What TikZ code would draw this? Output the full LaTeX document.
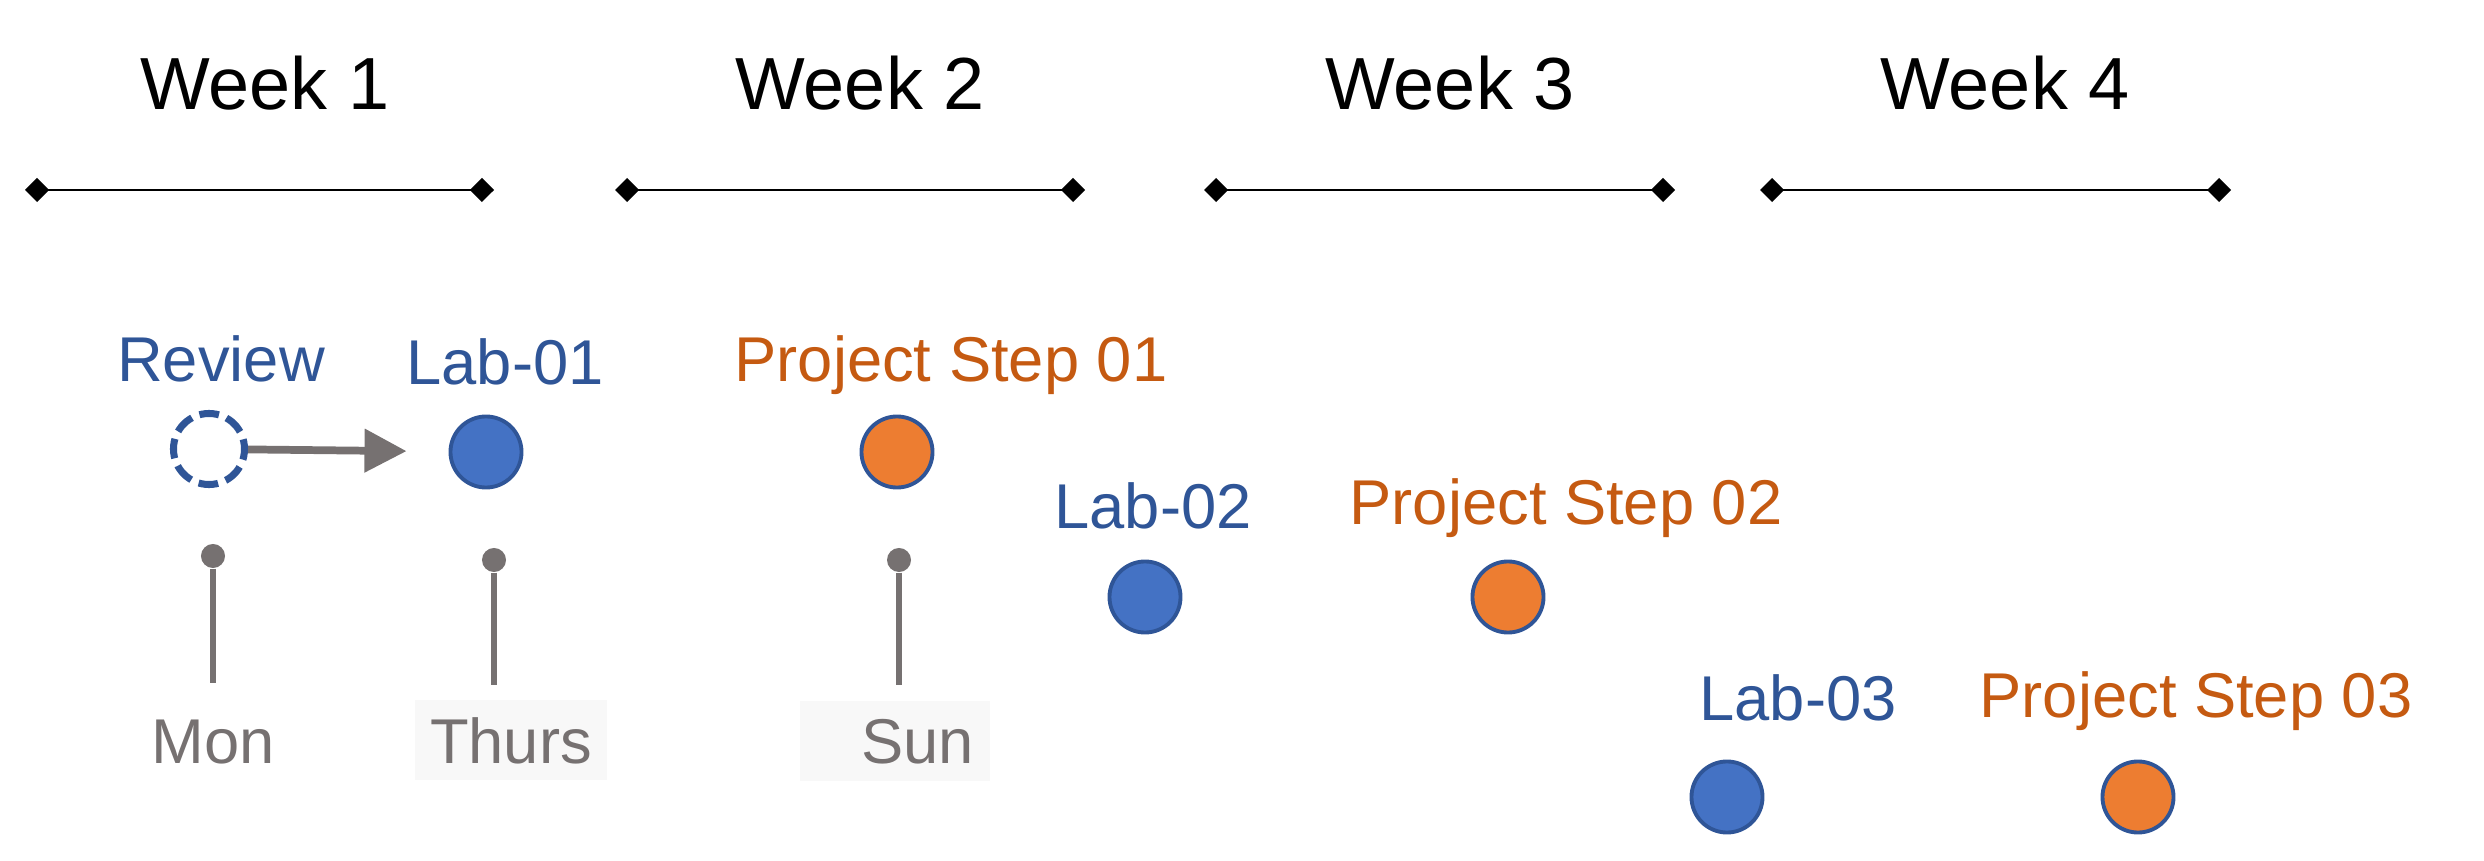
\documentclass[tikz,border=0pt]{standalone}
\usepackage{fontspec}
\setmainfont{Liberation Sans}
\usetikzlibrary{arrows.meta, positioning}

\definecolor{labblue}{HTML}{2F5597}
\definecolor{labfill}{HTML}{4472C4}
\definecolor{projfill}{HTML}{ED7D31}
\definecolor{projorange}{HTML}{C55A11}
\definecolor{pingrey}{HTML}{767171}
\definecolor{boxgrey}{HTML}{F8F8F8}

\tikzset{
    weeklabel/.style={font=\fontsize{21}{24}\selectfont, anchor=base},
    weekline/.style={line width=0.75pt, {Diamond[length=0.24cm, width=0.24cm]}-{Diamond[length=0.24cm, width=0.24cm]}},
    labtext/.style={font=\fontsize{18}{21}\selectfont, anchor=base, text=labblue},
    projtext/.style={font=\fontsize{18}{21}\selectfont, anchor=base, text=projorange},
    labdot/.style={circle, draw=labblue, line width=1.1pt, fill=labfill, minimum size=0.71cm, inner sep=0pt},
    projdot/.style={labdot, fill=projfill},
    pinhead/.style={circle, fill=pingrey, minimum size=0.24cm, inner sep=0pt},
    pinline/.style={draw=pingrey, line width=1.8pt},
    daytext/.style={font=\fontsize{18}{21}\selectfont, anchor=base, text=pingrey},
    daybox/.style={daytext, fill=boxgrey, minimum height=0.8cm, inner xsep=0.1cm}
}

\begin{document}
\begin{tikzpicture}[x=0.01cm, y=-0.01cm]
    \useasboundingbox (0,0) rectangle (2484,861);

    % weeks along the top
    \node[weeklabel] (week1) at (265,110) {Week 1};
    \node[weeklabel] (week2) at (860,110) {Week 2};
    \node[weeklabel] (week3) at (1450,110) {Week 3};
    \node[weeklabel] (week4) at (2005,110) {Week 4};

    \coordinate (w1s) at (25,190);   \coordinate (w1e) at (494,190);
    \coordinate (w2s) at (615,190);  \coordinate (w2e) at (1085,190);
    \coordinate (w3s) at (1204,190); \coordinate (w3e) at (1675,190);
    \coordinate (w4s) at (1760,190); \coordinate (w4e) at (2231,190);
    \draw[weekline] (w1s) -- (w1e);
    \draw[weekline] (w2s) -- (w2e);
    \draw[weekline] (w3s) -- (w3e);
    \draw[weekline] (w4s) -- (w4e);

    % review moves on to the first lab
    \node[labtext] at (221,382) {Review};
    \node[circle, draw=labblue, line width=2pt, dash pattern=on 5.6pt off 2.3pt, dash phase=2.8pt,
          fill=white, minimum size=0.71cm, inner sep=0pt] (review) at (209,449) {};
    \node[labtext] at (505,385) {Lab-01};
    \node[labdot] (lab1) at (486,452) {};
    \draw[pingrey, line width=2.2pt, -{Triangle[length=0.42cm, width=0.42cm]},
          shorten >=0.42cm] (review) -- (lab1);

    \node[projtext] at (951,382) {Project Step 01};
    \node[projdot] (proj1) at (897,452) {};

    \node[labtext] at (1153,528) {Lab-02};
    \node[labdot] (lab2) at (1145,597) {};
    \node[projtext] at (1566,525) {Project Step 02};
    \node[projdot] (proj2) at (1508,597) {};

    \node[labtext] at (1798,720) {Lab-03};
    \node[labdot] (lab3) at (1727,797) {};
    \node[projtext] at (2196,717) {Project Step 03};
    \node[projdot] (proj3) at (2138,797) {};

    % day pins
    \node[pinhead] (pinmon) at (213,556) {};
    \node[pinhead] (pinthu) at (494,560) {};
    \node[pinhead] (pinsun) at (899,560) {};
    \coordinate (endmon) at (213,683);
    \coordinate (endthu) at (494,685);
    \coordinate (endsun) at (899,685);
    \draw[pinline] (pinmon) -- (endmon);
    \draw[pinline] (pinthu) -- (endthu);
    \draw[pinline] (pinsun) -- (endsun);

    \node[daytext] (mon) at (213,763) {Mon};
    \node[daybox, minimum width=1.91cm] (thu) at (511,763) {Thurs};
    \node[daybox, text width=1.58cm, align=right, inner xsep=0.16cm] (sun) at (895,763) {Sun};
\end{tikzpicture}
\end{document}
